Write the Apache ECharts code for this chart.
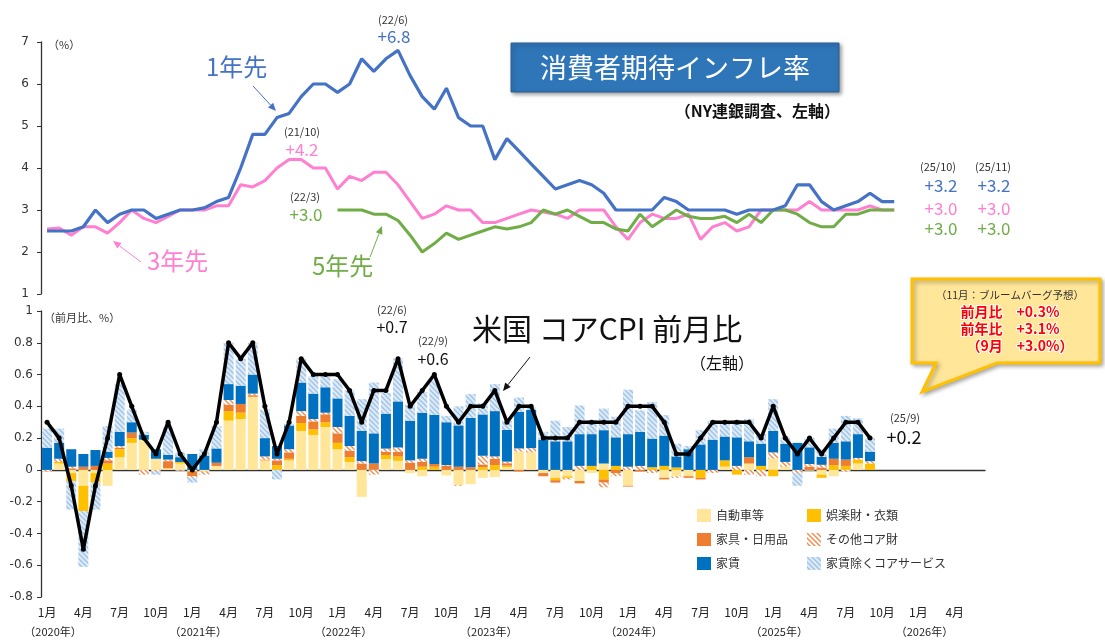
<!DOCTYPE html>
<html>
<head>
<meta charset="utf-8">
<script src="https://cdn.jsdelivr.net/npm/echarts@6/dist/echarts.min.js"></script>
<style>
  html,body{margin:0;padding:0;background:#fff;}
  #chart{width:1105px;height:642px;}
</style>
</head>
<body>
<div id="chart"></div>
<script>
// 横軸：2020年1月〜2026年6月（月次）
const categories = []
for (let y = 2020; y <= 2026; y++) {
  for (let m = 1; m <= 12; m++) {
    if (y === 2026 && m > 6) break
    categories.push(y + '/' + m)
  }
}

// 消費者期待インフレ率（NY連銀、%）2020/1〜2025/11
const oneYear = [
  2.5,2.5,2.5,2.6,3.0,2.7,2.9,3.0,3.0,2.8,2.9,3.0,
  3.0,3.05,3.2,3.3,4.0,4.8,4.8,5.2,5.3,5.7,6.0,6.0,
  5.8,6.0,6.6,6.3,6.6,6.8,6.2,5.7,5.4,5.9,5.2,5.0,
  5.0,4.2,4.7,4.4,4.1,3.8,3.5,3.6,3.7,3.6,3.4,3.0,
  3.0,3.0,3.0,3.3,3.2,3.0,3.0,3.0,3.0,2.9,3.0,3.0,
  3.0,3.1,3.6,3.6,3.2,3.0,3.1,3.2,3.4,3.2,3.2
]
const threeYear = [
  2.55,2.57,2.4,2.6,2.6,2.45,2.7,3.0,2.8,2.7,2.85,3.0,
  3.0,3.0,3.1,3.1,3.6,3.55,3.7,4.0,4.2,4.2,4.0,4.0,
  3.5,3.8,3.7,3.9,3.9,3.6,3.2,2.8,2.9,3.1,3.0,3.0,
  2.7,2.7,2.8,2.9,3.0,2.95,2.9,2.8,3.0,3.0,3.0,2.6,
  2.3,2.7,2.9,2.8,2.8,2.9,2.3,2.6,2.7,2.5,2.6,3.0,
  3.0,3.0,3.0,3.2,3.0,3.0,3.0,3.0,3.1,3.0,3.0
]
const fiveYear = [
  null,null,null,null,null,null,null,null,null,null,null,null,
  null,null,null,null,null,null,null,null,null,null,null,null,
  3.0,3.0,3.0,2.9,2.9,2.75,2.4,2.0,2.2,2.45,2.3,2.4,
  2.5,2.6,2.55,2.6,2.7,3.0,2.9,3.0,2.85,2.7,2.7,2.55,
  2.5,2.9,2.6,2.8,3.0,2.85,2.8,2.8,2.85,2.7,2.9,2.7,
  3.0,3.0,2.9,2.7,2.6,2.6,2.9,2.9,3.0,3.0,3.0
]

// 米国コアCPI前月比（%）2020/1〜2025/9
const coreCpi = [
  0.3,0.2,-0.1,-0.5,-0.1,0.2,0.6,0.4,0.2,0.1,0.3,0.1,
  0.0,0.1,0.3,0.8,0.7,0.8,0.4,0.1,0.3,0.7,0.6,0.6,
  0.6,0.5,0.3,0.5,0.5,0.7,0.4,0.5,0.6,0.4,0.3,0.4,
  0.4,0.5,0.3,0.4,0.4,0.2,0.2,0.2,0.3,0.3,0.3,0.3,
  0.4,0.4,0.4,0.3,0.1,0.1,0.2,0.3,0.3,0.3,0.3,0.2,
  0.4,0.2,0.1,0.2,0.1,0.2,0.3,0.3,0.2
]
// 寄与度（%pt）
const autos = [
  0,0.04,-0.02,-0.10,-0.02,-0.10,0.08,0.17,0.19,0.07,0.01,0.04,
  -0.01,-0.01,0.025,0.31,0.32,0.46,0.06,0,0.06,0.245,0.22,0.27,
  0.13,0.05,-0.17,0,0.067,0.057,-0.02,-0.04,0,-0.035,-0.095,-0.09,
  -0.05,-0.045,0.017,0.115,0.11,-0.02,-0.05,-0.04,-0.07,-0.02,0.04,0,
  -0.1,0,0,-0.05,-0.04,-0.04,0,0,0.02,0,0.04,0,
  0.07,0.02,0,-0.005,-0.03,-0.04,0,0.04,0
]
const recreation = [
  0,0.01,-0.05,-0.16,-0.06,0.04,0.05,0.03,0,0,0,0.01,
  0,0,0,0.06,0.04,0,0,0.03,0.01,0.05,0.035,0.03,
  0.04,0.03,0,0,0.027,0.027,0,0.02,0.02,0,0,0,
  0.017,0.03,0.01,0,0,0,-0.015,-0.01,0,0.025,-0.06,0.025,
  0,0,0.017,0.025,0.015,0,-0.05,0,0.04,-0.03,0,0.025,
  -0.04,0,0,0,-0.02,0.03,0.025,0.025,0.04
]
const household = [
  0,0,0.01,0.02,0.025,0.02,0.01,0.035,0,0,0.045,0,
  -0.03,0,0.02,0.04,0.055,0.01,0.005,0.03,0.04,0.045,0.05,0.05,
  0.06,0.04,0.04,0.04,0.02,0.03,0.045,0.03,0.017,0.025,0.02,0.017,
  0.017,0.04,0.015,-0.01,0,-0.02,-0.015,0,-0.015,0,-0.02,-0.02,
  -0.005,-0.01,0,-0.01,0,-0.01,-0.01,0,0,0,0.04,0,
  0,0,0,0.02,0.015,0.04,0.04,0,0
]
const otherGoods = [
  -0.01,0.02,0.01,0,0,0.015,0.01,0,-0.03,-0.01,0.01,-0.005,
  -0.01,-0.02,0,0.03,0,0.01,0.02,0.01,0.02,0.03,0.015,0.01,
  0.04,0.03,0.015,-0.03,0.02,0.027,0.015,0.02,0,0.005,-0.005,0,
  0.055,0.015,0.01,0.02,0.027,0,0,-0.01,0.025,0,-0.03,-0.02,
  0.02,0.025,-0.02,0,-0.01,0,0,-0.02,0,0.025,-0.03,-0.04,
  0.04,0.03,-0.02,0.017,0.017,0,-0.01,0.01,0.015
]
const rent = [
  0.14,0.10,0.11,0.08,0.10,0.04,0.09,0.065,0.03,0.06,0.03,0.03,
  0.10,0.09,0.09,0.10,0.115,0.12,0.115,0.08,0.15,0.18,0.16,0.16,
  0.18,0.19,0.19,0.19,0.22,0.29,0.25,0.29,0.31,0.27,0.26,0.31,
  0.26,0.285,0.2,0.23,0.24,0.19,0.18,0.18,0.2,0.2,0.21,0.18,
  0.205,0.215,0.18,0.19,0.07,0.13,0.16,0.19,0.15,0.18,0.1,0.14,
  0.135,0.115,0.17,0.105,0.05,0.1,0.115,0.15,0.06
]
const services = [
  0.12,0.09,-0.18,-0.35,-0.17,0.16,0.30,0.08,0.02,-0.02,0.17,0.03,
  -0.03,0.04,0.14,0.26,0.17,0.20,0.18,-0.06,0.01,0.15,0.11,0.07,
  0.12,0.16,0.2,0.32,0.13,0.27,0.1,0.13,0.22,0.04,0.12,0.15,
  0.07,0.17,0.06,0.09,0.02,0.05,0.13,0.09,0.18,0.09,0.136,0.13,
  0.28,0.135,0.23,0.13,0.08,0.02,0.09,0.12,0.08,0.11,0.14,0.06,
  0.2,0.04,-0.08,0.06,0.05,0.09,0.16,0.1,0.085
]

const FONT = 'Noto Sans CJK JP'

function hatch(base, stripe){
  const c = document.createElement('canvas')
  c.width = 5; c.height = 5
  const g = c.getContext('2d')
  g.fillStyle = base; g.fillRect(0,0,5,5)
  g.strokeStyle = stripe; g.lineWidth = 1.4
  g.beginPath()
  g.moveTo(0,0); g.lineTo(5,5)
  g.moveTo(-1,4); g.lineTo(1,6)
  g.moveTo(4,-1); g.lineTo(6,1)
  g.stroke()
  return {image:c, repeat:'repeat'}
}

// 注記用の矢印
function arrow(x1,y1,x2,y2,color){
  const a = Math.atan2(y2-y1,x2-x1), L = 8, W = 3.5
  const bx = x2 - L*Math.cos(a), by = y2 - L*Math.sin(a)
  return {type:'group', children:[
    {type:'line', shape:{x1,y1,x2:bx,y2:by}, style:{stroke:color, lineWidth:1}},
    {type:'polygon', shape:{points:[[x2,y2],[bx+W*Math.sin(a),by-W*Math.cos(a)],[bx-W*Math.sin(a),by+W*Math.cos(a)]]}, style:{fill:color}}
  ]}
}
function txt(x,y,text,size,color,extra){
  return {type:'text', x, y, style:Object.assign({text, font:size+'px "'+FONT+'"', fill:color, textAlign:'left', textVerticalAlign:'middle'}, extra||{})}
}
const bold = (size)=>'bold '+size+'px "'+FONT+'"'

const BLUE = '#4472c4', PINK = '#ff80d0', GREEN = '#70ad47'
const svcPattern = hatch('#deebf7','#9dc3e6')
const otherPattern = hatch('#ffffff','#f08a4b')

const chart = echarts.init(document.getElementById('chart'))
const bar = (name, data, color) => ({
  name, type:'bar', data, stack:'cpi', xAxisIndex:1, yAxisIndex:1,
  barWidth:10, itemStyle:{color}
})
const labelAxis = (extra) => Object.assign({
  type:'category', gridIndex:1, data:categories, position:'bottom',
  axisLine:{show:false, onZero:false}, axisTick:{show:false}
}, extra)

const option = {
  animation:false,
  textStyle:{fontFamily:FONT},
  grid:[
    {left:41, top:42, width:944, height:252},
    {left:41, top:311, width:944, height:286}
  ],
  xAxis:[
    {type:'category', gridIndex:0, data:categories, show:false},
    {type:'category', gridIndex:1, data:categories,
      axisLine:{onZero:true, lineStyle:{color:'#333', width:1.3}},
      axisTick:{interval:(i)=>i%3===0, length:4, lineStyle:{color:'#333'}},
      axisLabel:{show:false}},
    // 月ラベル
    labelAxis({axisLabel:{interval:(i)=>i%3===0, margin:9, color:'#222', fontSize:12, fontFamily:FONT,
      showMinLabel:true, hideOverlap:false,
      formatter:(v,i)=>(i%12+1)+'月'}}),
    // 年ラベル
    labelAxis({axisLabel:{interval:(i)=>i%12===0, margin:29, color:'#222', fontSize:11, fontFamily:FONT,
      showMinLabel:true, hideOverlap:false, padding:[0,0,0,12],
      formatter:(v,i)=>'（'+(2020+Math.floor(i/12))+'年）'}})
  ],
  yAxis:[
    {type:'value', gridIndex:0, min:1, max:7, interval:1,
      axisLine:{show:true, lineStyle:{color:'#333', width:1.3}},
      axisTick:{show:true, length:4, lineStyle:{color:'#333'}},
      splitLine:{show:false},
      axisLabel:{color:'#333', fontSize:12, margin:12, fontFamily:'DejaVu Sans'}},
    {type:'value', gridIndex:1, min:-0.8, max:1, interval:0.2,
      axisLine:{show:true, lineStyle:{color:'#333', width:1.3}},
      axisTick:{show:true, length:4, lineStyle:{color:'#333'}},
      splitLine:{show:false},
      axisLabel:{color:'#333', fontSize:12, margin:8, fontFamily:'DejaVu Sans',
        formatter:(v)=>String(Math.round(v*10)/10)}}
  ],
  legend:[
    {left:692, top:504, orient:'vertical', itemWidth:14, itemHeight:13, itemGap:11,
      icon:'rect', textStyle:{fontSize:12, color:'#333', fontFamily:FONT},
      data:['自動車等','家具・日用品','家賃']},
    {left:802, top:504, orient:'vertical', itemWidth:14, itemHeight:13, itemGap:11,
      icon:'rect', textStyle:{fontSize:12, color:'#333', fontFamily:FONT},
      data:['娯楽財・衣類','その他コア財','家賃除くコアサービス']}
  ],
  series:[
    {name:'3年先', type:'line', data:threeYear, xAxisIndex:0, yAxisIndex:0, symbol:'none',
      lineStyle:{color:PINK, width:3}, itemStyle:{color:PINK}},
    {name:'5年先', type:'line', data:fiveYear, xAxisIndex:0, yAxisIndex:0, symbol:'none',
      lineStyle:{color:GREEN, width:3}, itemStyle:{color:GREEN}},
    {name:'1年先', type:'line', data:oneYear, xAxisIndex:0, yAxisIndex:0, symbol:'none',
      lineStyle:{color:BLUE, width:3.2}, itemStyle:{color:BLUE}},
    bar('自動車等', autos, '#ffe699'),
    bar('娯楽財・衣類', recreation, '#ffc000'),
    bar('家具・日用品', household, '#ed7d31'),
    bar('その他コア財', otherGoods, otherPattern),
    bar('家賃', rent, '#0070c0'),
    bar('家賃除くコアサービス', services, svcPattern),
    {name:'コアCPI', type:'line', data:coreCpi, xAxisIndex:1, yAxisIndex:1, z:10,
      symbol:'circle', symbolSize:5, lineStyle:{color:'#000', width:3.5}, itemStyle:{color:'#000'}}
  ],
  graphic:[
    // タイトル
    {type:'rect', shape:{x:511, y:43, width:328, height:49},
      style:{fill:'#2f76b8', stroke:'#2a5f94', lineWidth:1, shadowBlur:4, shadowColor:'rgba(0,0,0,0.4)', shadowOffsetX:2, shadowOffsetY:2}},
    txt(675, 68, '消費者期待インフレ率', 27, '#fff', {textAlign:'center'}),
    txt(840, 111, '（NY連銀調査、左軸）', 16, '#111', {textAlign:'right', font:bold(16)}),
    txt(48, 45, '（%）', 11, '#333'),
    txt(44, 318, '（前月比、%）', 11, '#333'),
    // 系列名
    txt(206, 67, '1年先', 24, BLUE),
    arrow(253, 86, 276, 111, BLUE),
    txt(147, 261, '3年先', 24, PINK),
    arrow(141, 262, 113, 241, PINK),
    txt(312, 266, '5年先', 24, GREEN),
    arrow(370, 257, 382, 226, GREEN),
    // 注記（上段）
    txt(393, 20, '(22/6)', 11, '#333', {textAlign:'center'}),
    txt(394, 37, '+6.8', 17, BLUE, {textAlign:'center'}),
    txt(302, 132, '(21/10)', 11, '#333', {textAlign:'center'}),
    txt(302, 150, '+4.2', 17, PINK, {textAlign:'center'}),
    txt(305, 197, '(22/3)', 11, '#333', {textAlign:'center'}),
    txt(306, 215, '+3.0', 17, GREEN, {textAlign:'center'}),
    txt(938, 167, '(25/10)', 11, '#333', {textAlign:'center'}),
    txt(993, 167, '(25/11)', 11, '#333', {textAlign:'center'}),
    txt(941, 186, '+3.2', 17, BLUE, {textAlign:'center'}),
    txt(994, 186, '+3.2', 17, BLUE, {textAlign:'center'}),
    txt(941, 209, '+3.0', 17, PINK, {textAlign:'center'}),
    txt(994, 209, '+3.0', 17, PINK, {textAlign:'center'}),
    txt(941, 229, '+3.0', 17, GREEN, {textAlign:'center'}),
    txt(994, 229, '+3.0', 17, GREEN, {textAlign:'center'}),
    // 注記（下段）
    txt(472, 329, '米国 コアCPI 前月比', 30, '#111'),
    txt(690, 363, '（左軸）', 16, '#111'),
    arrow(530, 357, 503, 391, '#111'),
    txt(392, 310, '(22/6)', 11, '#333', {textAlign:'center'}),
    txt(392, 327, '+0.7', 16, '#111', {textAlign:'center'}),
    txt(433, 341, '(22/9)', 11, '#333', {textAlign:'center'}),
    txt(433, 359, '+0.6', 16, '#111', {textAlign:'center'}),
    txt(905, 418, '(25/9)', 11, '#333', {textAlign:'center'}),
    txt(904, 437, '+0.2', 18, '#111', {textAlign:'center'}),
    // 吹き出し
    {type:'polygon', shape:{points:[[912,279],[1100,279],[1100,363],[997,363],[922,392],[936,363],[912,363]]},
      style:{fill:'#ffe699', stroke:'#ffc000', lineWidth:3, shadowBlur:4, shadowColor:'rgba(0,0,0,0.3)', shadowOffsetX:2, shadowOffsetY:2}},
    txt(1010, 295, '（11月：ブルームバーグ予想）', 10.5, '#333', {textAlign:'center'}),
    txt(1010, 312, '前月比　+0.3%', 14, '#ff0000', {textAlign:'center', font:bold(14), stroke:'#fff', lineWidth:2}),
    txt(1010, 329, '前年比　+3.1%', 14, '#ff0000', {textAlign:'center', font:bold(14), stroke:'#fff', lineWidth:2}),
    txt(1020, 346, '（9月　+3.0%）', 14, '#ff0000', {textAlign:'center', font:bold(14), stroke:'#fff', lineWidth:2})
  ]
}
chart.setOption(option)
</script>
</body>
</html>
